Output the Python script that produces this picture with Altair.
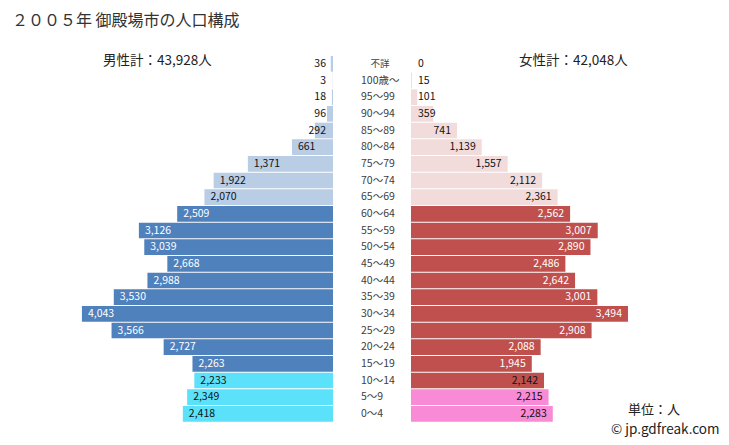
import altair as alt
import pandas as pd

ages = ["不詳", "100歳～", "95～99", "90～94", "85～89", "80～84", "75～79", "70～74",
        "65～69", "60～64", "55～59", "50～54", "45～49", "40～44", "35～39", "30～34",
        "25～29", "20～24", "15～19", "10～14", "5～9", "0～4"]
male = [36, 3, 18, 96, 292, 661, 1371, 1922, 2070, 2509, 3126, 3039, 2668, 2988,
        3530, 4043, 3566, 2727, 2263, 2233, 2349, 2418]
female = [0, 15, 101, 359, 741, 1139, 1557, 2112, 2361, 2562, 3007, 2890, 2486, 2642,
          3001, 3494, 2908, 2088, 1945, 2142, 2215, 2283]
# bar color group per row
male_group = ["old"] * 9 + ["work"] * 10 + ["child"] * 3
female_group = ["old"] * 9 + ["work"] * 11 + ["child"] * 2
# label color group per row (dark text on light bars)
label_group = ["dark"] * 9 + ["light"] * 10 + ["dark"] * 3

rows = []
for i, a in enumerate(ages):
    rows.append({"age": a, "sex": "男", "value": male[i], "neg": -male[i], "zero": 0,
                 "grp": "m_" + male_group[i], "lab": label_group[i],
                 "text": f"{male[i]:,}"})
    rows.append({"age": a, "sex": "女", "value": female[i], "neg": female[i], "zero": 0,
                 "grp": "f_" + female_group[i], "lab": label_group[i],
                 "text": f"{female[i]:,}"})
df = pd.DataFrame(rows)
age_df = pd.DataFrame({"age": ages, "zero": [0] * len(ages)})

FONT = "Noto Sans CJK JP"
xs = alt.Scale(domain=[-5000, 5000], range=[53.5, 674.5])
ys = alt.Scale(domain=ages, range=[47.5, 414.2], paddingInner=0.06, paddingOuter=0.03)
color_scale = alt.Scale(
    domain=["m_old", "m_work", "m_child", "f_old", "f_work", "f_child"],
    range=["#B9CDE5", "#4F81BD", "#5CE1FA", "#F2DCDB", "#C0504D", "#F98AD6"])

base = alt.Chart(df)
Y = alt.Y("age:N", scale=ys, axis=None)
XV = alt.X("neg:Q", scale=xs, axis=None)
XZ = alt.X("zero:Q", scale=xs, axis=None)

male_bars = base.transform_filter("datum.sex == '男'").mark_bar(
    xOffset=-39, x2Offset=-39).encode(
    x=XV, x2=alt.X2("zero:Q"), y=Y,
    color=alt.Color("grp:N", scale=color_scale, legend=None))
female_bars = base.transform_filter("datum.sex == '女'").mark_bar(
    xOffset=39, x2Offset=39).encode(
    x=XV, x2=alt.X2("zero:Q"), y=Y,
    color=alt.Color("grp:N", scale=color_scale, legend=None))

tf = dict(font=FONT, fontSize=10.5, baseline="middle")
def lbl(cond, align, dx, color, xenc):
    return base.transform_filter(cond).mark_text(
        align=align, dx=dx, color=color, **tf).encode(x=xenc, y=Y, text="text:N")

male_big_l = lbl("datum.sex == '男' && datum.value >= 500 && datum.lab == 'light'", "left", -33, "#FFFFFF", XV)
male_big_d = lbl("datum.sex == '男' && datum.value >= 500 && datum.lab == 'dark'", "left", -33, "#111111", XV)
male_small = lbl("datum.sex == '男' && datum.value < 500", "right", -46, "#111111", XZ)
female_big_l = lbl("datum.sex == '女' && datum.value >= 500 && datum.lab == 'light'", "right", 33, "#FFFFFF", XV)
female_big_d = lbl("datum.sex == '女' && datum.value >= 500 && datum.lab == 'dark'", "right", 33, "#111111", XV)
female_small = lbl("datum.sex == '女' && datum.value < 500", "left", 46, "#111111", XZ)

age_base = alt.Chart(age_df)
age_labels = age_base.transform_filter("datum.age != '不詳'").mark_text(
    align="left", dx=-11, font=FONT, fontSize=10.5, baseline="middle", color="#404040").encode(
    x=XZ, y=Y, text="age:N")
age_unknown = age_base.transform_filter("datum.age == '不詳'").mark_text(
    align="center", dx=8, font=FONT, fontSize=9.5, baseline="middle", color="#404040").encode(
    x=XZ, y=Y, text="age:N")

annot = pd.DataFrame({
    "t": ["２００５年 御殿場市の人口構成", "男性計：43,928人", "女性計：42,048人", "単位：人", "© jp.gdfreak.com"],
    "k": ["title", "m", "f", "unit", "copy"],
})
def ann(k, x, y, size, align="left", color="#222222"):
    return alt.Chart(annot).transform_filter(f"datum.k == '{k}'").mark_text(
        align=align, baseline="middle", font=FONT, fontSize=size, color=color,
        x=x, y=y).encode(text="t:N")

title = ann("title", 4, 13, 16, color="#333333")
mt = ann("m", 95, 53, 13.5)
ft = ann("f", 511, 53, 13.5)
unit = ann("unit", 620, 402, 13)
copy = ann("copy", 603, 422, 13.5)

chart = alt.layer(
    male_bars, female_bars, male_big_l, male_big_d, male_small,
    female_big_l, female_big_d, female_small,
    age_labels, age_unknown, title, mt, ft, unit, copy
).properties(
    width=713, height=432, padding=0, autosize=alt.AutoSizeParams(type="none"),
    background="white"
).configure_view(stroke=None)

chart.save("out.html", embed_options={"renderer": "svg", "actions": False})
